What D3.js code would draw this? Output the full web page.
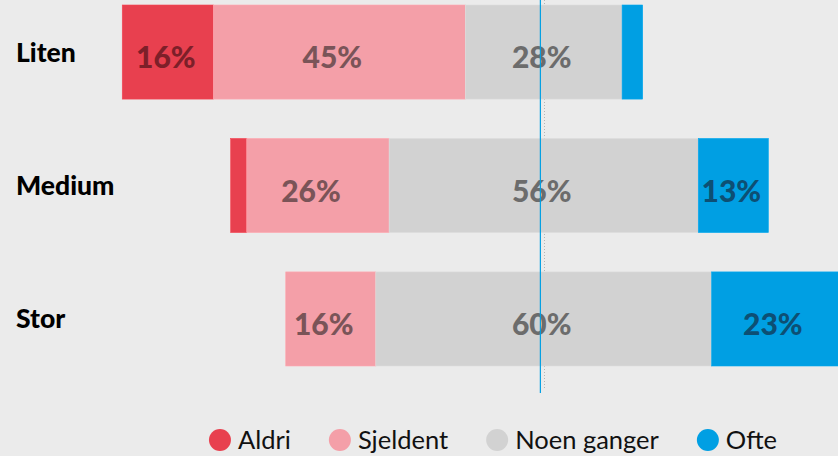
<!DOCTYPE html>
<html>
<head>
<meta charset="utf-8">
<script src="https://cdn.jsdelivr.net/npm/d3@7"></script>
<style>
  html, body { margin: 0; padding: 0; background: #ebebeb; }
  svg { display: block; font-family: Lato, "Noto Sans", sans-serif; }
</style>
</head>
<body>
<div id="chart"></div>
<script>
// data
var categories = ['Liten', 'Medium', 'Stor'];
var answers = ['Aldri', 'Sjeldent', 'Noen ganger', 'Ofte'];
var aldri      = [16.4, 2.9, 0];
var sjeldent   = [45.3, 25.6, 16.2];
var noenGanger = [28.2, 55.6, 60.4];
var ofte       = [3.7, 12.6, 23.0];
var markerValue = -0.6;

var colors     = ['#e8404f', '#f49fa8', '#d2d2d2', '#009fe3'];
var textColors = ['#7d1f29', '#7a5458', '#6c6c6c', '#0d4f74'];

var chart_width = 838
var chart_height = 456

var svg = d3.select('#chart')
    .append('svg')
    .attr('width', chart_width)
    .attr('height', chart_height);

svg.append('rect')
    .attr('width', chart_width)
    .attr('height', chart_height)
    .attr('fill', '#ebebeb');

// centred on the middle of "Noen ganger"
var x = d3.scaleLinear()
    .domain([-75, 53])
    .range([126.7, 838.4]);

var y = d3.scaleBand()
    .domain(categories)
    .range([5, 366])
    .paddingInner(0.295)
    .paddingOuter(0);

var rows = categories.map(function(c, i) {
    var vals = [aldri[i], sjeldent[i], noenGanger[i], ofte[i]];
    var start = -vals[0] - vals[1] - vals[2] / 2;
    var segs = [];
    vals.forEach(function(v, j) {
        segs.push({cat: c, key: j, value: v, x0: start, x1: start + v});
        start += v;
    });
    return segs;
});
var segments = d3.merge(rows);

// dotted centre line (behind bars)
svg.append('line')
    .attr('x1', Math.round(x(0)) + 0.5)
    .attr('x2', Math.round(x(0)) + 0.5)
    .attr('y1', 0)
    .attr('y2', 388)
    .attr('stroke', '#b5b5b5')
    .attr('stroke-width', 1)
    .attr('stroke-dasharray', '1,2');

svg.selectAll('rect.seg')
    .data(segments.filter(function(d) { return d.value > 0; }))
    .enter()
    .append('rect')
    .attr('class', 'seg')
    .attr('x', function(d) { return x(d.x0); })
    .attr('y', function(d) { return y(d.cat); })
    .attr('width', function(d) { return x(d.x1) - x(d.x0); })
    .attr('height', y.bandwidth())
    .attr('fill', function(d) { return colors[d.key]; })
    .attr('stroke', function(d) { return d3.color(colors[d.key]).brighter(0.15); })
    .attr('stroke-width', 0.6);

svg.selectAll('text.val')
    .data(segments.filter(function(d) { return d.value >= 8; }))
    .enter()
    .append('text')
    .attr('class', 'val')
    .text(function(d) { return Math.round(d.value) + '%'; })
    .attr('x', function(d) {
        var right = Math.min(x(d.x1), chart_width);
        // pink labels sit a little left of centre in the original
        var shift = d.key == 1 ? -7 : -2;
        return (x(d.x0) + right) / 2 + shift;
    })
    .attr('y', function(d) { return y(d.cat) + y.bandwidth() / 2 + 16; })
    .attr('font-size', 30)
    .attr('font-weight', 900)
    .attr('fill', function(d) { return textColors[d.key]; })
    .attr('text-anchor', 'middle');

// category labels
svg.selectAll('text.cat')
    .data(categories)
    .enter()
    .append('text')
    .attr('class', 'cat')
    .text(function(d) { return d; })
    .attr('x', 16)
    .attr('y', function(d) { return y(d) + y.bandwidth() / 2 + 9.5; })
    .attr('font-size', 26.5)
    .attr('font-weight', 900)
    .attr('fill', '#000');

// marker line
svg.append('line')
    .attr('x1', x(markerValue))
    .attr('x2', x(markerValue))
    .attr('y1', 0)
    .attr('y2', 393)
    .attr('stroke', '#009fe3')
    .attr('stroke-width', 1.2);

// legend
var legend = svg.append('g');
var lx = 0;
answers.forEach(function(a, i) {
    var g = legend.append('g').attr('transform', 'translate(' + lx + ',0)');
    g.append('circle')
        .attr('cx', 11)
        .attr('cy', 0)
        .attr('r', 11)
        .attr('fill', colors[i]);
    var t = g.append('text')
        .text(a)
        .attr('x', 29)
        .attr('y', 9)
        .attr('font-size', 25.5)
        .attr('fill', '#111');
    lx += 29 + t.node().getComputedTextLength() + 38;
});
var legendWidth = lx - 38;
legend.attr('transform', 'translate(' + (493 - legendWidth / 2) + ',440)');
</script>
</body>
</html>
